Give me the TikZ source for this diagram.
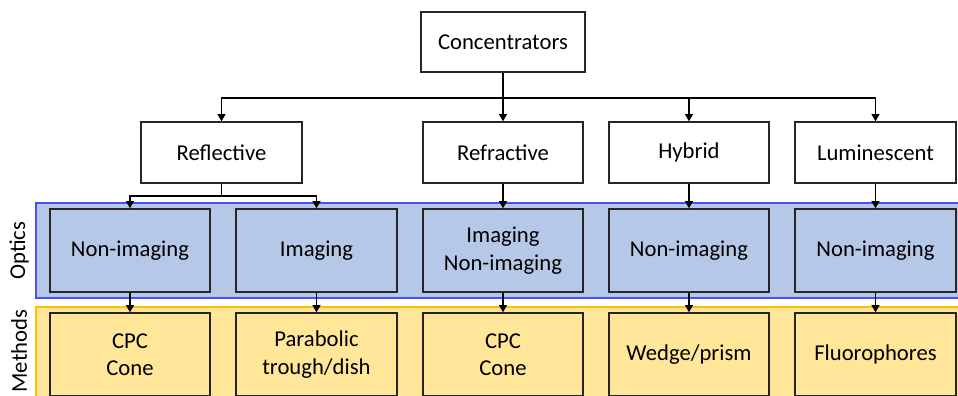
\documentclass[tikz,border=0pt]{standalone}
\usepackage{fontspec}
\setmainfont{Carlito}
\usetikzlibrary{arrows.meta}
\definecolor{opticsfill}{HTML}{B6C8E8}
\definecolor{opticsline}{HTML}{4A4CFF}
\definecolor{methodsfill}{HTML}{FFE699}
\definecolor{methodsline}{HTML}{FFC000}
\begin{document}
\begin{tikzpicture}[x=0.75pt,y=-0.75pt,
  box/.style={draw=black!85,line width=1pt,minimum height=45.75pt,align=center,inner sep=0pt,
    font=\fontsize{17}{20.5}\selectfont},
  optbox/.style={box,fill=opticsfill,minimum height=62.25pt},
  metbox/.style={box,fill=methodsfill,minimum height=62.25pt},
  link/.style={line width=1pt,black},
  arr/.style={link,-{Triangle[length=5.5pt,width=6pt]}},
  bandlabel/.style={rotate=90,font=\fontsize{17}{20}\selectfont}]
\useasboundingbox (0,0) rectangle (958,396);
% background bands
\fill[opticsfill] (36,203) rectangle (964,298);
\draw[opticsline,line width=1.2pt] (964,203) -- (36,203) -- (36,298) -- (964,298);
\fill[methodsfill] (36,307) rectangle (964,420);
\draw[methodsline,line width=1.2pt] (36,420) -- (36,307) -- (964,307);
\node[bandlabel] (optlab) at (19,250.5) {Optics};
\node[bandlabel] (metlab) at (19,351) {Methods};
% top level
\node[box,minimum width=123pt,minimum height=45pt] (conc) at (503,42) {Concentrators};
% concentrator types
\node[box,minimum width=120.75pt] (refl) at (221.5,152.5) {Reflective};
\node[box,minimum width=120pt] (refr) at (503,152.5) {Refractive};
\node[box,minimum width=120pt] (hyb) at (689,152.5) {Hybrid};
\node[box,minimum width=120.75pt] (lum) at (875.5,152.5) {Luminescent};
% optics
\node[optbox,minimum width=120pt] (o1) at (130,250.5) {Non-imaging};
\node[optbox,minimum width=120.75pt] (o2) at (316.5,250.5) {Imaging};
\node[optbox,minimum width=120pt] (o3) at (503,250.5) {Imaging\\Non-imaging};
\node[optbox,minimum width=120pt] (o4) at (689,250.5) {Non-imaging};
\node[optbox,minimum width=120.75pt] (o5) at (875.5,250.5) {Non-imaging};
% methods
\node[metbox,minimum width=120pt] (m1) at (130,354.5) {CPC\\Cone};
\node[metbox,minimum width=120.75pt] (m2) at (316.5,354.5) {Parabolic\\trough/dish};
\node[metbox,minimum width=120pt] (m3) at (503,354.5) {CPC\\Cone};
\node[metbox,minimum width=120pt] (m4) at (689,354.5) {Wedge/prism};
\node[metbox,minimum width=120.75pt] (m5) at (875.5,354.5) {Fluorophores};
% connectors
\coordinate (bus) at (503,98);
\coordinate (rsplit) at (221.5,196);
\draw[link] (conc.south) -- (bus);
\draw[arr] (bus) -| (refl.north);
\draw[arr] (bus) -- (refr.north);
\draw[arr] (bus) -| (hyb.north);
\draw[arr] (bus) -| (lum.north);
\draw[link] (refl.south) -- (rsplit);
\draw[arr] (rsplit) -| (o1.north);
\draw[arr] (rsplit) -| (o2.north);
\draw[arr] (refr.south) -- (o3.north);
\draw[arr] (hyb.south) -- (o4.north);
\draw[arr] (lum.south) -- (o5.north);
\draw[arr] (o1.south) -- (m1.north);
\draw[arr] (o2.south) -- (m2.north);
\draw[arr] (o3.south) -- (m3.north);
\draw[arr] (o4.south) -- (m4.north);
\draw[arr] (o5.south) -- (m5.north);
\end{tikzpicture}
\end{document}
